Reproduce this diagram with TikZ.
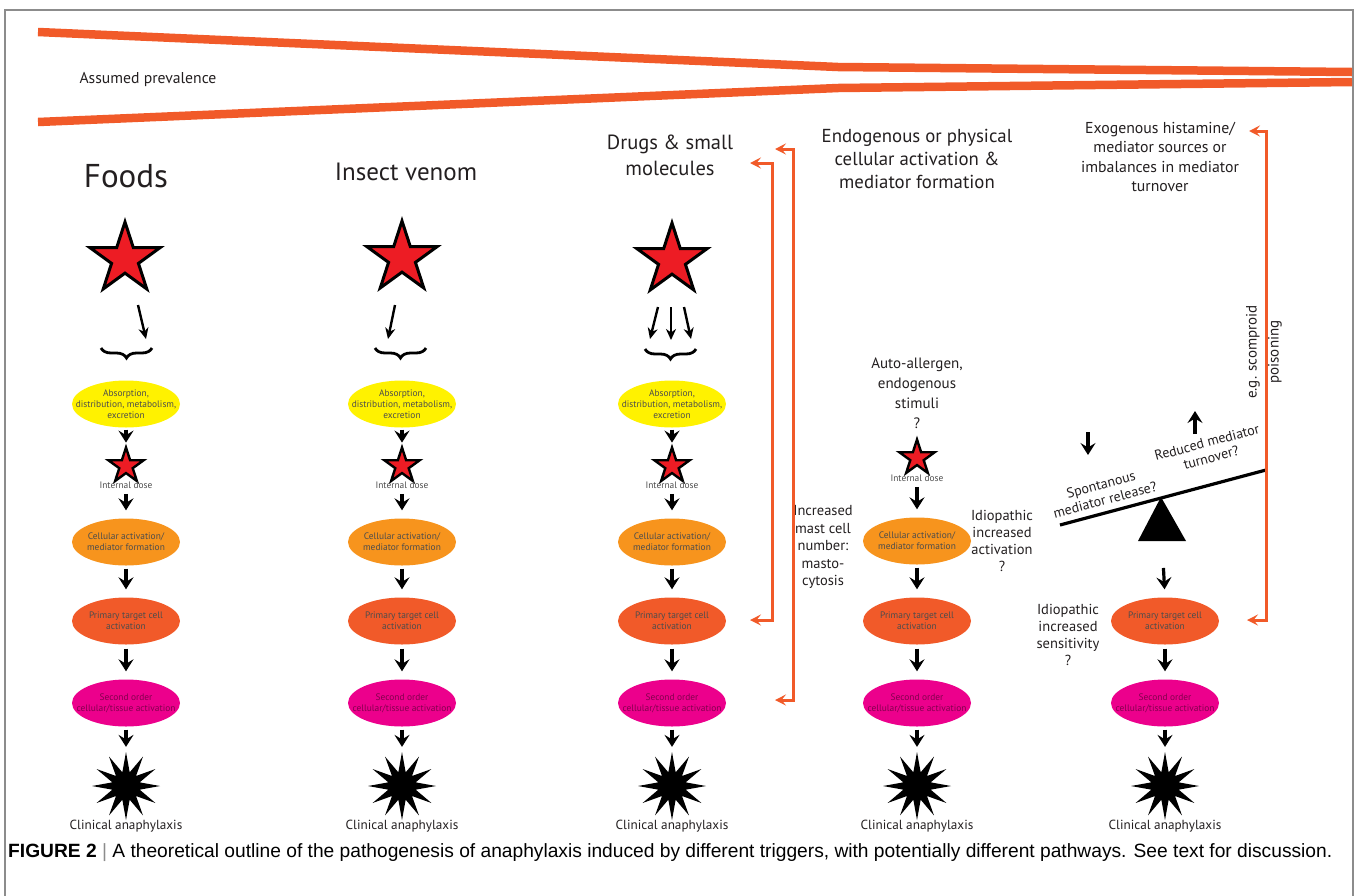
\documentclass[tikz,border=0pt]{standalone}
\usepackage{fontspec}
\setmainfont{PT Sans}
\newfontfamily\capfont{Liberation Sans}
\usetikzlibrary{calc, positioning, shapes.geometric, arrows.meta, decorations.pathreplacing}
\definecolor{wedgeorange}{HTML}{F15A29}
\definecolor{starred}{HTML}{ED1C24}
\definecolor{admeyellow}{HTML}{FFF200}
\definecolor{actorange}{HTML}{F7941D}
\definecolor{primorange}{HTML}{F15A29}
\definecolor{secpink}{HTML}{EC008C}
\definecolor{inktext}{HTML}{231F20}
\definecolor{framegray}{HTML}{8C8C8C}

\tikzset{
  bigstar/.style={star, star points=5, star point ratio=2.618, draw=black, fill=starred,
    line width=3pt, minimum size=74pt, inner sep=0pt},
  dosestar/.style={bigstar, line width=2.4pt, minimum size=37pt},
  boomstar/.style={star, star points=12, star point ratio=2.4, fill=black,
    minimum size=68pt, inner sep=0pt},
  blob/.style={ellipse, minimum width=108pt, minimum height=47pt, inner sep=0pt},
  blobtext/.style={align=center, text=black!70, font=\fontsize{9.4}{11}\selectfont},
  lbl/.style={align=center, text=inktext},
  darr/.style={-{Stealth[length=12pt, width=15pt, inset=4.5pt]}, line width=3.2pt},
  thinarr/.style={-{Stealth[length=11pt, width=10pt, inset=3.5pt]}, line width=2.4pt},
  curly/.style={decorate, decoration={brace, mirror, amplitude=10pt}, line width=2.8pt},
  obrk/.style={{Stealth[length=11pt, width=11pt, inset=4.5pt]}-{Stealth[length=11pt, width=11pt, inset=4.5pt]},
    draw=wedgeorange, line width=3pt},
  wedge/.style={draw=wedgeorange, line width=8.5pt},
}

\begin{document}
\begin{tikzpicture}[x=1pt, y=1pt]
  \useasboundingbox (0,0) rectangle (1357,-895);
  % frame
  \draw[framegray, line width=1.2pt] (5,-1000) -- (5,-10) -- (1353,-10) -- (1353,-1000);

  % prevalence wedge
  \draw[wedge] (38,-32) -- (838,-67) -- (1352,-72);
  \draw[wedge] (38,-122) -- (838,-88) -- (1352,-82);
  \node[lbl, font=\fontsize{15.7}{18}\selectfont] (prev) at (148,-79) {Assumed prevalence};

  % column titles
  \node[lbl, font=\fontsize{33}{36}\selectfont] (foods) at (126,-176) {Foods};
  \node[lbl, font=\fontsize{25}{28}\selectfont] (venom) at (406,-172) {Insect venom};
  \node[lbl, font=\fontsize{20.5}{26}\selectfont] (drugs) at (670,-155) {Drugs \& small\\molecules};
  \node[lbl, font=\fontsize{18.8}{23}\selectfont] (endo) at (917,-159) {Endogenous or physical\\cellular activation \&\\mediator formation};
  \node[lbl, font=\fontsize{15.8}{19.5}\selectfont] (exo) at (1160,-157) {Exogenous histamine/\\mediator sources or\\imbalances in mediator\\turnover};

  % trigger stars
  \node[bigstar] (trigf) at (125,-259) {};
  \node[bigstar] (trigv) at (402,-258) {};
  \node[bigstar] (trigd) at (672,-260) {};

  % braces
  \coordinate (blf) at (101,-348); \coordinate (brf) at (152,-348);
  \coordinate (blv) at (375,-348); \coordinate (brv) at (426,-348);
  \coordinate (bld) at (645,-349); \coordinate (brd) at (696,-349);
  \draw[curly] (blf) -- (brf);
  \draw[curly] (blv) -- (brv);
  \draw[curly] (bld) -- (brd);

  % routes into the body
  \coordinate (inf) at (146,-339);
  \coordinate (inv) at (388,-339);
  \coordinate (indl) at (650,-339);
  \coordinate (indm) at (671,-340);
  \coordinate (indr) at (691,-339);
  \draw[thinarr] (138,-305) -- (inf);
  \draw[thinarr] (395,-305) -- (inv);
  \draw[thinarr] (658,-307) -- (indl);
  \draw[thinarr] (671,-307) -- (indm);
  \draw[thinarr] (684,-307) -- (indr);

  % upper chain
  \foreach \c/\x in {f/126,v/402,d/672}{
    \node[blob, fill=admeyellow, label={[blobtext]center:Absorption,\\distribution, metabolism,\\excretion}] (adme\c) at (\x,-404) {};
    \node[dosestar] (dose\c) at (\x,-466) {};
    \node[blobtext] (dlbl\c) at (\x,-485) {Internal dose};
    \node[blob, fill=actorange, label={[blobtext]center:Cellular activation/\\mediator formation}] (act\c) at (\x,-542) {};
    \draw[darr, shorten <=2pt, shorten >=1pt] (adme\c.south) -- (dose\c.north);
    \draw[darr, shorten <=2pt, shorten >=8pt] (dlbl\c.south) -- (act\c.north);
  }

  % endogenous column
  \node[lbl, font=\fontsize{15}{20}\selectfont] (auto) at (917,-393) {Auto-allergen,\\endogenous\\stimuli\\?};
  \node[dosestar] (dosee) at (917,-458) {};
  \node[blobtext] (dlble) at (917,-478) {Internal dose};
  \node[blob, fill=actorange, label={[blobtext]center:Cellular activation/\\mediator formation}] (acte) at (917,-541) {};
  \draw[darr, shorten <=2pt, shorten >=8pt] (dlble.south) -- (acte.north);
  \node[lbl, font=\fontsize{14.5}{17.5}\selectfont] (mast) at (823,-547) {Increased\\mast cell\\number:\\masto-\\cytosis};
  \node[lbl, font=\fontsize{14.5}{17}\selectfont] (idact) at (1002,-541) {Idiopathic\\increased\\activation\\?};

  % lower chain
  \foreach \c/\x in {f/126,v/402,d/672,e/917,x/1165}{
    \node[blob, fill=primorange, label={[blobtext]center:Primary target cell\\activation}] (prim\c) at (\x,-621) {};
    \node[blob, fill=secpink, label={[blobtext, text=secpink!55!black]center:Second order\\cellular/tissue activation}] (sec\c) at (\x,-703) {};
    \node[boomstar] (boom\c) at (\x,-786) {};
    \node[lbl, font=\fontsize{13.2}{15}\selectfont] (clin\c) at (\x,-826) {Clinical anaphylaxis};
    \draw[darr, shorten <=4pt, shorten >=8pt] (prim\c.south) -- (sec\c.north);
    \draw[darr, shorten <=3pt, shorten >=4pt] (sec\c.south) -- (boom\c.north);
  }
  \foreach \c in {f,v,d,e}{
    \draw[darr, shorten <=3pt, shorten >=8pt] (act\c.south) -- (prim\c.north);
  }

  % mediator balance
  \coordinate (beaml) at (1060,-525);
  \coordinate (beamr) at (1266,-470);
  \coordinate (fulcrum) at (1162,-541);
  \draw[line width=3.2pt] (beaml) -- (beamr);
  \fill (1138,-541) -- (1161,-497) -- (1186,-541) -- cycle;
  \node[lbl, rotate=15, font=\fontsize{14}{16}\selectfont] (spont) at (1103,-492) {Spontanous\\mediator release?};
  \node[lbl, rotate=15, font=\fontsize{14}{16}\selectfont] (reduc) at (1209,-450) {Reduced mediator\\turnover?};
  \coordinate (downtop) at (1088,-432); \coordinate (downbot) at (1088,-455);
  \coordinate (upbot) at (1195,-434); \coordinate (uptop) at (1195,-411);
  \draw[darr] (downtop) -- (downbot);
  \draw[darr] (upbot) -- (uptop);
  \draw[darr, shorten <=27pt, shorten >=8pt] (fulcrum) -- (primx.north);
  \node[lbl, font=\fontsize{14.5}{17}\selectfont] (idsens) at (1068,-635) {Idiopathic\\increased\\sensitivity\\?};

  % orange feedback brackets
  \coordinate (drugtip) at (750,-163);
  \coordinate (primtipd) at (750,-620);
  \coordinate (endotip) at (775,-149);
  \coordinate (sectipd) at (775,-700);
  \coordinate (exotip) at (1249,-131);
  \coordinate (primtipx) at (1247,-620);
  \draw[obrk] (drugtip) -- ++(22,0) |- (primtipd);
  \draw[obrk] (endotip) -- ++(18,0) |- (sectipd);
  \draw[obrk] (exotip) -- ++(17,0) |- (primtipx);
  \node[lbl, rotate=90, font=\fontsize{15}{22}\selectfont] (scomb) at (1264,-352) {e.g. scomproid\\poisoning};

  % caption
  \node[anchor=west, inner sep=0pt, font=\capfont\fontsize{19.2}{22}\selectfont] (caption) at (8,-853)
    {\textbf{FIGURE 2} {\color{black!45}|} A theoretical outline of the pathogenesis of anaphylaxis induced by different triggers, with potentially different pathways. See text for discussion.};
\end{tikzpicture}
\end{document}
